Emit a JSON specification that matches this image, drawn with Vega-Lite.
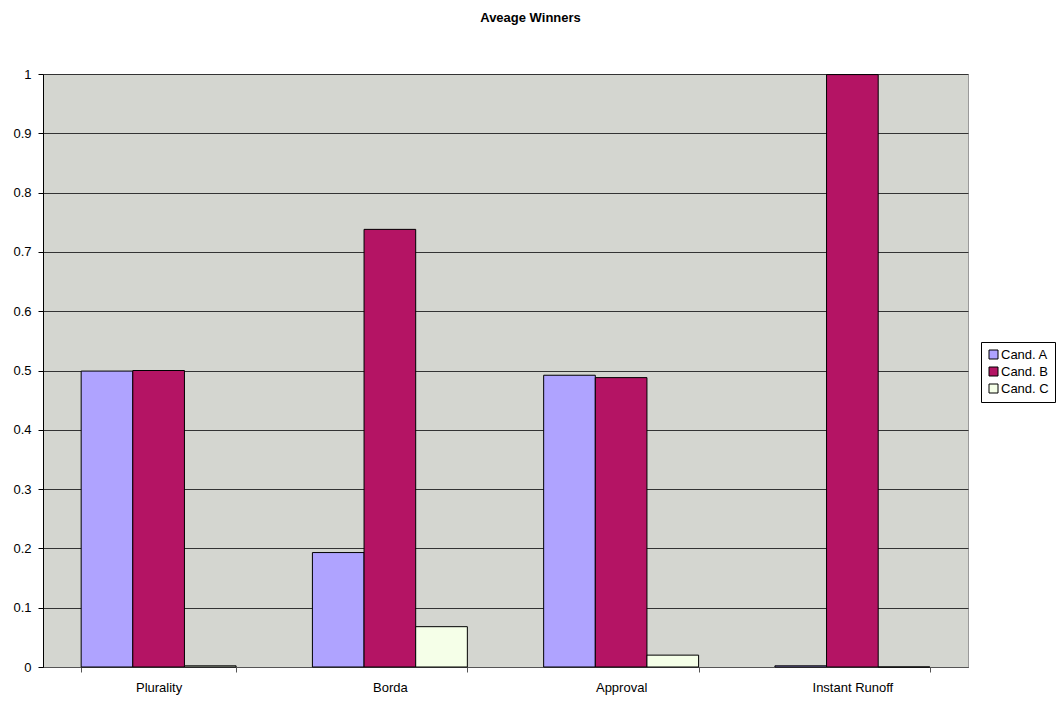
{
  "$schema": "https://vega.github.io/schema/vega-lite/v6.json",
  "width": 925,
  "height": 593,
  "autosize": {"type": "none"},
  "padding": {"left": 43, "top": 74, "right": 93, "bottom": 35},
  "background": "white",
  "title": {"text": "Aveage Winners", "font": "Liberation Sans", "fontSize": 13, "fontWeight": "bold", "color": "black", "anchor": "middle", "dx": 25, "offset": 43},
  "config": {
    "view": {"fill": "#D4D6D0", "stroke": "#9a9a9a", "strokeWidth": 1},
    "axis": {"labelFont": "Liberation Sans", "labelFontSize": 13, "labelColor": "black"}
  },
  "data": {"values": [
    {"method": "Plurality", "cand": "Cand. A", "value": 0.499},
    {"method": "Plurality", "cand": "Cand. B", "value": 0.5},
    {"method": "Plurality", "cand": "Cand. C", "value": 0.002},
    {"method": "Borda", "cand": "Cand. A", "value": 0.193},
    {"method": "Borda", "cand": "Cand. B", "value": 0.738},
    {"method": "Borda", "cand": "Cand. C", "value": 0.068},
    {"method": "Approval", "cand": "Cand. A", "value": 0.492},
    {"method": "Approval", "cand": "Cand. B", "value": 0.488},
    {"method": "Approval", "cand": "Cand. C", "value": 0.02},
    {"method": "Instant Runoff", "cand": "Cand. A", "value": 0.002},
    {"method": "Instant Runoff", "cand": "Cand. B", "value": 0.999},
    {"method": "Instant Runoff", "cand": "Cand. C", "value": 0}
  ]},
  "mark": {"type": "bar", "stroke": "black", "strokeWidth": 1},
  "encoding": {
    "x": {
      "field": "method", "type": "nominal", "sort": ["Plurality", "Borda", "Approval", "Instant Runoff"],
      "scale": {"paddingInner": 0.33, "paddingOuter": 0.165},
      "axis": {"title": null, "labelAngle": 0, "domainColor": "#555", "tickColor": "#555", "tickSize": 5, "tickBand": "extent", "labelPadding": 9}
    },
    "xOffset": {"field": "cand", "type": "nominal", "scale": {"paddingInner": 0, "paddingOuter": 0}},
    "y": {
      "field": "value", "type": "quantitative",
      "scale": {"domain": [0, 1], "nice": false},
      "axis": {"title": null, "values": [0, 0.1, 0.2, 0.3, 0.4, 0.5, 0.6, 0.7, 0.8, 0.9, 1], "format": ".1~f", "labelOverlap": false, "grid": true, "gridColor": "#333", "gridOpacity": 1, "gridWidth": 1, "domainColor": "black", "tickColor": "black", "tickSize": 5, "labelPadding": 7}
    },
    "color": {
      "field": "cand", "type": "nominal",
      "scale": {"domain": ["Cand. A", "Cand. B", "Cand. C"], "range": ["#AFA3FF", "#B41464", "#F5FFE8"]},
      "legend": {"title": null, "orient": "none", "legendX": 938, "legendY": 268, "symbolType": "square", "symbolSize": 81, "symbolStrokeColor": "black", "symbolStrokeWidth": 1, "symbolOpacity": 1, "labelFont": "Liberation Sans", "labelFontSize": 13, "labelColor": "black", "rowPadding": 3, "labelOffset": 1, "strokeColor": "black", "padding": 6, "fillColor": "white"}
    }
  }
}
